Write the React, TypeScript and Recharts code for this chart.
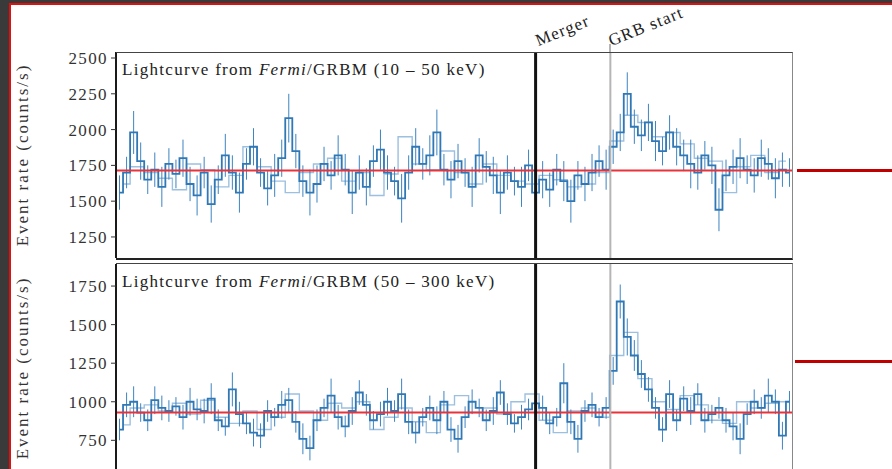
import { LineChart, Line, XAxis, YAxis, ReferenceLine, ErrorBar } from "recharts";

// bin index of merger and GRB start (96 bins across the plot)
const mergerBin = 59;
const grbBin = 69.6;

const topTicks = [1250, 1500, 1750, 2000, 2250, 2500];
const bottomTicks = [750, 1000, 1250, 1500, 1750];
const topBaseline = 1715;
const bottomBaseline = 930;

// 10 - 50 keV, fine bins
const topDark = [
  1560, 1700, 1980, 1780, 1650, 1720, 1600, 1760, 1690, 1800,
  1620, 1540, 1700, 1480, 1650, 1820, 1700, 1560, 1760, 1880,
  1700, 1590, 1680, 1800, 2080, 1850, 1640, 1560, 1620, 1760,
  1680, 1820, 1720, 1560, 1700, 1600, 1780, 1860, 1700, 1640,
  1520, 1700, 1880, 1760, 1820, 1980, 1720, 1650, 1780, 1700,
  1600, 1820, 1740, 1680, 1560, 1700, 1640, 1600, 1750, 1560,
  1650, 1580, 1720, 1640, 1500, 1680, 1620, 1700, 1780, 1720,
  1880, 1980, 2250, 2020, 1960, 2050, 1920, 1850, 1980, 1880,
  1820, 1760, 1700, 1820, 1750, 1440, 1680, 1740, 1800, 1720,
  1680, 1800, 1760, 1660, 1720, 1700,
];
const topErr = [
  120, 110, 150, 130, 100, 120, 140, 110, 100, 130,
  120, 140, 110, 130, 100, 150, 120, 140, 110, 130,
  100, 120, 150, 130, 170, 120, 110, 160, 130, 120,
  100, 140, 110, 150, 120, 130, 110, 140, 120, 100,
  170, 120, 130, 110, 140, 160, 110, 130, 120, 100,
  140, 120, 110, 130, 150, 120, 100, 140, 110, 160,
  130, 120, 110, 140, 150, 100, 120, 130, 110, 140,
  120, 130, 150, 120, 110, 130, 140, 100, 120, 130,
  110, 170, 120, 100, 130, 150, 110, 120, 140, 100,
  120, 130, 110, 140, 120, 100,
];
// 10 - 50 keV, coarse bins
const topLight = [
  1620, 1740, 1700, 1660, 1580, 1760, 1720, 1600, 1680, 1880,
  1740, 1640, 1560, 1700, 1760, 1800, 1640, 1700, 1540, 1690,
  1950, 1760, 1720, 1850, 1700, 1620, 1760, 1680, 1640, 1620,
  1680, 1650, 1600, 1620, 1700, 1920, 2100, 2050, 1950, 1980,
  1900, 1800, 1780, 1560, 1740, 1820, 1700, 1780,
];

// 50 - 300 keV, fine bins
const bottomDark = [
  820, 980, 1000, 930, 880, 1010, 960, 940, 970, 900,
  1000, 950, 940, 1020, 880, 840, 1080, 920, 860, 800,
  780, 940, 900, 980, 1010, 870, 760, 700, 880, 960,
  1040, 900, 840, 940, 1060, 980, 880, 920, 1000, 940,
  1050, 870, 800, 900, 960, 880, 1000, 820, 760, 900,
  1000, 960, 880, 940, 1060, 920, 860, 900, 950, 990,
  960, 860, 900, 1120, 870, 760, 940, 980, 900, 960,
  1200, 1650, 1420, 1300, 1180, 1080, 960, 820, 1050, 880,
  1020, 940, 1050, 880, 920, 960, 880, 840, 760, 920,
  1000, 960, 1040, 1000, 780, 1000,
];
const bottomErr = [
  70, 80, 100, 60, 70, 90, 80, 70, 60, 80,
  90, 70, 80, 100, 70, 60, 110, 80, 70, 90,
  80, 70, 60, 90, 80, 70, 100, 80, 70, 60,
  110, 80, 70, 90, 80, 70, 60, 80, 90, 70,
  100, 80, 70, 60, 80, 90, 70, 80, 90, 70,
  80, 60, 70, 90, 80, 70, 60, 80, 70, 90,
  80, 70, 60, 130, 80, 90, 70, 80, 60, 70,
  90, 110, 120, 100, 90, 80, 70, 80, 90, 70,
  80, 90, 70, 80, 60, 70, 80, 90, 100, 70,
  80, 70, 110, 80, 90, 70,
];
// 50 - 300 keV, coarse bins
const bottomLight = [
  850, 960, 980, 940, 990, 920, 1010, 900, 860, 940,
  820, 900, 1050, 940, 880, 990, 960, 1000, 820, 900,
  960, 870, 800, 980, 1040, 930, 960, 920, 1000, 1050,
  880, 800, 940, 960, 900, 1300, 1450, 1150, 1000, 950,
  1040, 980, 880, 860, 1000, 960, 990, 1000,
];

const fine = (vals: number[], errs: number[]) =>
  vals.map((v, i) => ({ t: i, v, err: errs[i] }));
const coarse = (vals: number[]) => vals.map((v, i) => ({ t: 2 * i + 0.5, v }));

const serif = "'Liberation Serif', 'DejaVu Serif', serif";

interface IPanelProps {
  dark: { t: number; v: number; err: number }[];
  light: { t: number; v: number }[];
  domain: [number, number];
  ticks: number[];
  baseline: number;
  height: number;
  top: number;
  bottom: number;
}

const Panel = ({ dark, light, domain, ticks, baseline, height, top, bottom }: IPanelProps) => (
  <div style={{ position: "absolute", left: 0, top: 0 }}>
    <LineChart
      width={892}
      height={height}
      margin={{ top, right: 99, bottom, left: 56 }}
    >
      <XAxis
        dataKey="t"
        type="number"
        domain={[-0.5, 95.5]}
        allowDataOverflow
        hide
      />
      <YAxis
        type="number"
        domain={domain}
        ticks={ticks}
        allowDataOverflow
        width={60}
        tickSize={5}
        tickMargin={3}
        axisLine={{ stroke: "#1a1a1a", strokeWidth: 2 }}
        tickLine={{ stroke: "#333" }}
        tick={{ fontSize: 17, fill: "#333", fontFamily: serif, letterSpacing: 1.4 }}
      />
      <Line
        data={light}
        dataKey="v"
        type="step"
        stroke="#9cc0e0"
        strokeWidth={1.4}
        dot={false}
        isAnimationActive={false}
      />
      <Line
        data={dark}
        dataKey="v"
        type="step"
        stroke="#2f78b5"
        strokeWidth={1.8}
        dot={false}
        isAnimationActive={false}
      >
        <ErrorBar
          dataKey="err"
          direction="y"
          width={0}
          stroke="#3d84c0"
          strokeWidth={1}
        />
      </Line>
      <ReferenceLine y={baseline} stroke="#e8333a" strokeWidth={2} />
      <ReferenceLine x={mergerBin} stroke="#111" strokeWidth={3} />
      <ReferenceLine x={grbBin} stroke="#b5b5b5" strokeWidth={2} />
    </LineChart>
  </div>
);

const Title = ({ band, top }: { band: string; top: number }) => (
  <div
    style={{
      position: "absolute",
      left: 122,
      top,
      fontFamily: serif,
      fontSize: 17,
      letterSpacing: 1.3,
      color: "#222",
      whiteSpace: "nowrap",
    }}
  >
    Lightcurve from <i>Fermi</i>/GRBM ({band} keV)
  </div>
);

const YLabel = ({ centerY }: { centerY: number }) => (
  <div
    style={{
      position: "absolute",
      left: 23,
      top: centerY,
      transform: "translate(-50%, -50%) rotate(-90deg)",
      fontFamily: serif,
      fontSize: 17,
      letterSpacing: 2,
      color: "#333",
      whiteSpace: "nowrap",
    }}
  >
    Event rate (counts/s)
  </div>
);

const markLabel = {
  position: "absolute" as const,
  top: 31,
  transform: "rotate(-22deg)",
  transformOrigin: "left bottom",
  fontFamily: serif,
  fontSize: 17,
  letterSpacing: 1.2,
  color: "#222",
  whiteSpace: "nowrap" as const,
};

export default function App() {
  return (
    <div
      style={{
        position: "fixed",
        left: 0,
        top: 0,
        width: 892,
        height: 469,
        overflow: "hidden",
        background: "#3a3a3a",
      }}
    >
      <div
        style={{
          position: "absolute",
          left: 9,
          top: 3,
          width: 900,
          height: 480,
          background: "#fff",
          border: "2px solid #e01010",
        }}
      />
      <Panel
        dark={fine(topDark, topErr)}
        light={coarse(topLight)}
        domain={[1103, 2542]}
        ticks={topTicks}
        baseline={topBaseline}
        height={270}
        top={52}
        bottom={12}
      />
      <Panel
        dark={fine(bottomDark, bottomErr)}
        light={coarse(bottomLight)}
        domain={[428, 1893]}
        ticks={bottomTicks}
        baseline={bottomBaseline}
        height={500}
        top={264}
        bottom={10}
      />
      {/* panel frames */}
      <div style={{ position: "absolute", left: 116, top: 52, width: 676, height: 205, borderTop: "1.5px solid #444", borderBottom: "2px solid #222", borderRight: "1.5px solid #888" }} />
      <div style={{ position: "absolute", left: 116, top: 263, width: 676, height: 230, borderTop: "1.5px solid #444", borderRight: "1.5px solid #888" }} />
      <div style={{ position: "absolute", left: 609, top: 44, width: 2, height: 8, background: "#b5b5b5" }} />
      <Title band="10 – 50" top={60} />
      <Title band="50 – 300" top={272} />
      <YLabel centerY={155} />
      <YLabel centerY={368} />
      <div style={{ ...markLabel, left: 540 }}>Merger</div>
      <div style={{ ...markLabel, left: 613 }}>GRB start</div>
      {/* slide annotation strokes */}
      <div style={{ position: "absolute", left: 797, top: 169, width: 100, height: 3, background: "#c00000" }} />
      <div style={{ position: "absolute", left: 795, top: 360, width: 100, height: 3, background: "#c00000" }} />
    </div>
  );
}
